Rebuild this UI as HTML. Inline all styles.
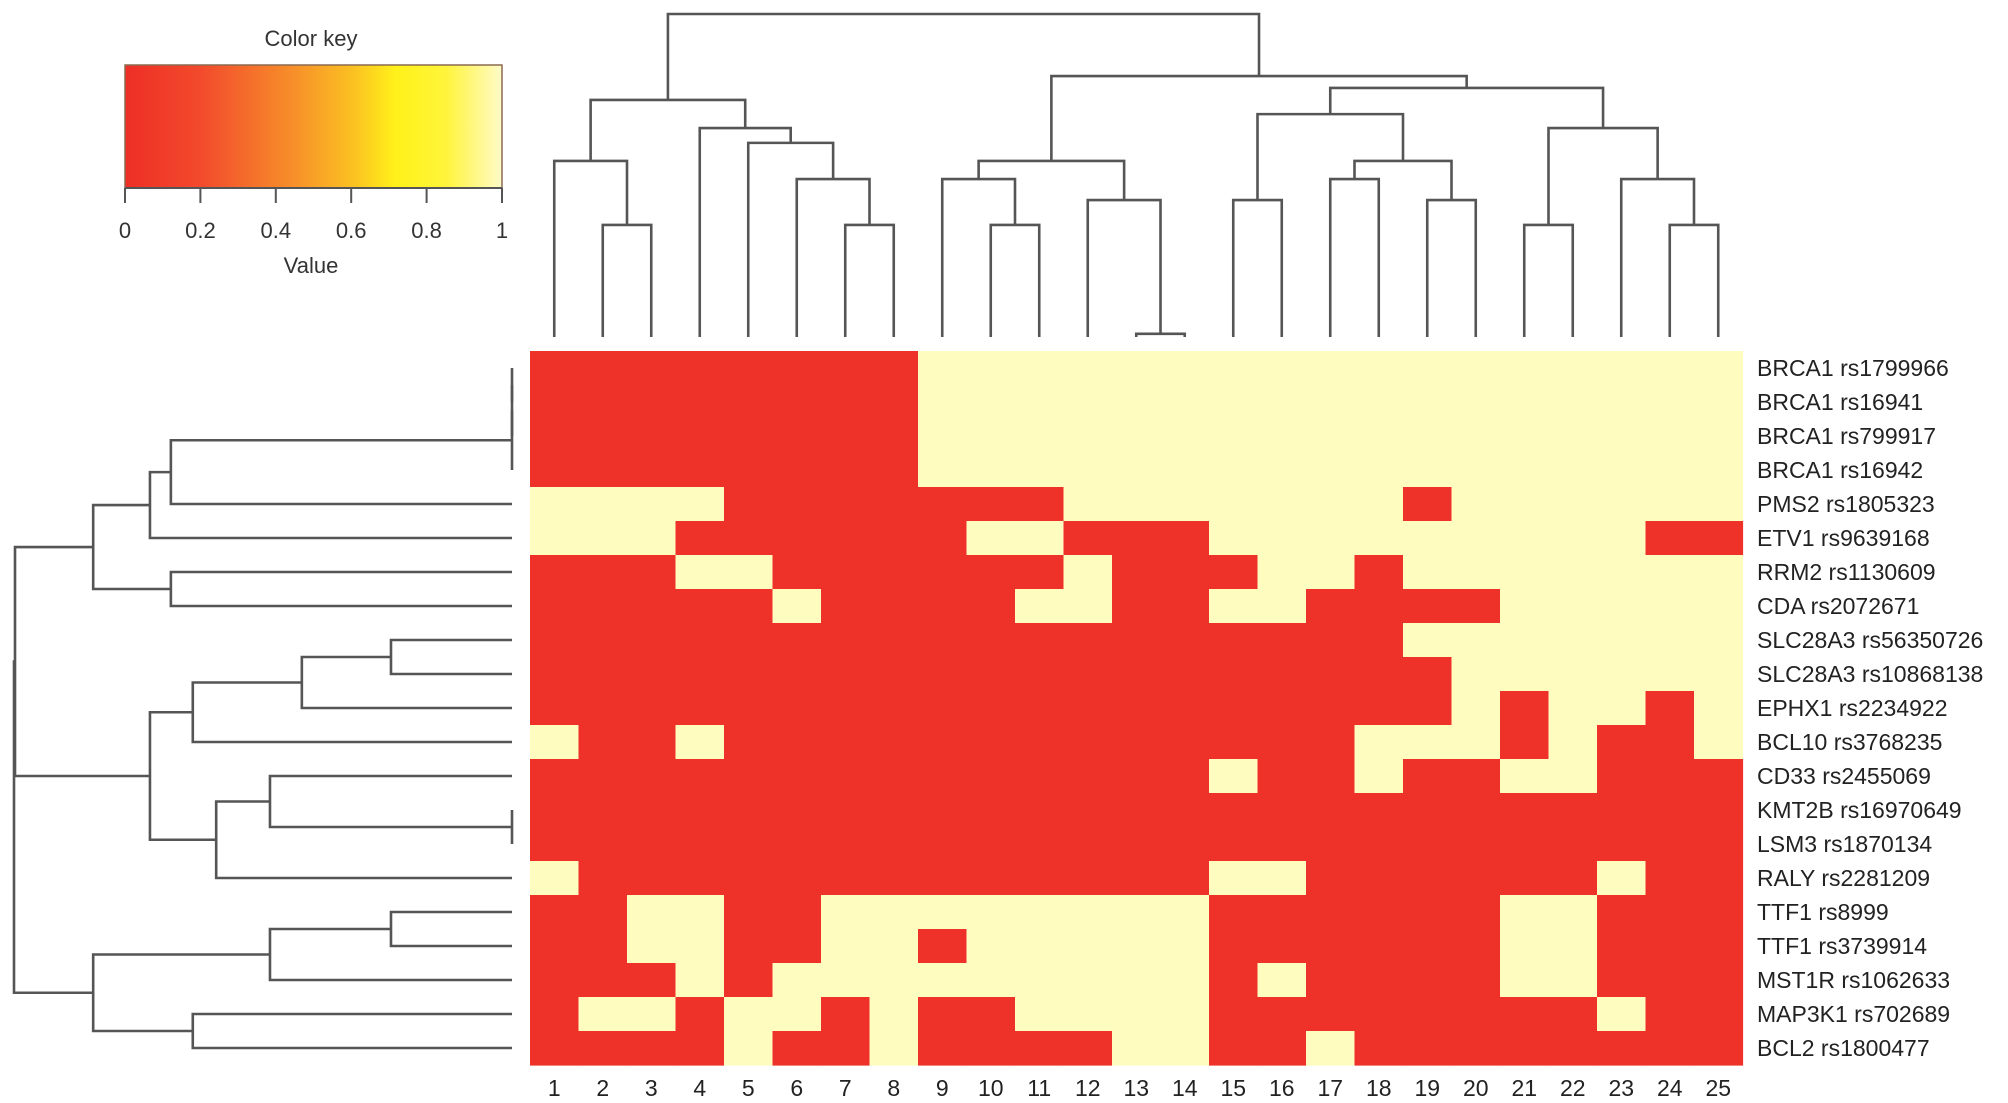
<!DOCTYPE html>
<html><head><meta charset="utf-8">
<style>
html,body{margin:0;padding:0;background:#fff;}
svg{display:block;font-family:"Liberation Sans",Arial,sans-serif;}
</style></head>
<body>
<svg id="chart" width="2008" height="1103" viewBox="0 0 2008 1103" xmlns="http://www.w3.org/2000/svg">
<defs>
<linearGradient id="keygrad" x1="0" x2="1" y1="0" y2="0">
<stop offset="0" stop-color="#ee2f26"/>
<stop offset="0.2" stop-color="#f24a2c"/>
<stop offset="0.45" stop-color="#f7902a"/>
<stop offset="0.6" stop-color="#fbbf22"/>
<stop offset="0.72" stop-color="#fff21a"/>
<stop offset="0.85" stop-color="#fff43a"/>
<stop offset="1" stop-color="#fffbc8"/>
</linearGradient>
</defs>
<g id="colorkey">
<text x="311" y="46" font-size="22" fill="#333" text-anchor="middle">Color key</text>
<rect x="125" y="65" width="377" height="123" fill="url(#keygrad)" stroke="#8a6a50" stroke-width="1.5"/>
<line x1="125" y1="188" x2="502" y2="188" stroke="#555" stroke-width="2"/>
<g id="keyticks"></g>
<text x="311" y="273" font-size="22" fill="#333" text-anchor="middle">Value</text>
</g>
<g id="coldendro"></g>
<g id="rowdendro"></g>
<g id="cells"></g>
<g id="rowlabels"></g>
<g id="collabels"></g>
</svg>
<script>
const rowNames = ["BRCA1 rs1799966","BRCA1 rs16941","BRCA1 rs799917","BRCA1 rs16942","PMS2 rs1805323","ETV1 rs9639168","RRM2 rs1130609","CDA rs2072671","SLC28A3 rs56350726","SLC28A3 rs10868138","EPHX1 rs2234922","BCL10 rs3768235","CD33 rs2455069","KMT2B rs16970649","LSM3 rs1870134","RALY rs2281209","TTF1 rs8999","TTF1 rs3739914","MST1R rs1062633","MAP3K1 rs702689","BCL2 rs1800477"];
const colNames = ["1","2","3","4","5","6","7","8","9","10","11","12","13","14","15","16","17","18","19","20","21","22","23","24","25"];
// 0 = red (value 0), 1 = pale yellow (value 1); one string per row
const cellValues = [
"0000000011111111111111111",
"0000000011111111111111111",
"0000000011111111111111111",
"0000000011111111111111111",
"1111000000011111110111111",
"1110000001100011111111100",
"0001100000010001101111111",
"0000010000110011000011111",
"0000000000000000001111111",
"0000000000000000000111111",
"0000000000000000000101101",
"1001000000000000011101001",
"0000000000000010010011000",
"0000000000000000000000000",
"0000000000000000000000000",
"1000000000000011000000100",
"0011001111111100000011000",
"0011001101111100000011000",
"0001011111111101000011000",
"0110110100111100000000100",
"0000100100001100100000000"
];
// hclust-style merges: negative = leaf index (1-based), positive = earlier merge
const colMergeA = [-2,-1,-7,-6,-5,-4,2,-10,-9,-13,-12,9,-15,-17,-19,14,13,-21,-24,-23,18,17,12,7];
const colMergeB = [-3,1,-8,3,4,5,6,-11,8,-14,10,11,-16,-18,-20,15,16,-22,-25,19,20,21,22,23];
const colHeights = [0.347,0.545,0.347,0.489,0.601,0.647,0.734,0.347,0.489,0.01,0.424,0.545,0.424,0.489,0.424,0.545,0.69,0.347,0.347,0.489,0.647,0.771,0.808,1.0];
const rowMergeA = [-1,1,2,3,4,-7,5,-9,8,9,-14,-13,12,10,-17,15,-20,16,7,19];
const rowMergeB = [-2,-3,-4,-5,-6,-8,6,-10,-11,-12,-15,11,-16,13,-18,-19,-21,17,14,18];
const rowHeights = [0,0,0,0.685,0.727,0.685,0.841,0.243,0.422,0.641,0,0.486,0.594,0.727,0.243,0.486,0.641,0.841,0.998,1.0];
const keyTicks = [0,0.2,0.4,0.6,0.8,1];

const NS="http://www.w3.org/2000/svg";
function mk(tag,attrs,parent){const e=document.createElementNS(NS,tag);for(const k in attrs)e.setAttribute(k,attrs[k]);parent.appendChild(e);return e;}

const gx0=530, cw=48.5, gy0=351, ch=34;
const xCol = i => gx0 + cw*i;
const yRow = i => gy0 + ch*i;
const xColC = p => gx0 + cw*(p-0.5);
const yRowC = p => gy0 + ch*(p-0.5);
const colDY = d => 337 - d*323;
const rowDX = d => 512 - d*498;
const keyX = v => 125 + v*377;

const RED="#ee3129", YEL="#fffcc0";
const cells=document.getElementById('cells');
for(let r=0;r<rowNames.length;r++){
  for(let c=0;c<colNames.length;c++){
    const v=+cellValues[r][c];
    const el=mk('rect',{x:xCol(c),y:yRow(r),width:cw+0.6,height:ch+0.6,fill:v?YEL:RED},cells);
    
    
  }
}
const rl=document.getElementById('rowlabels');
rowNames.forEach((n,i)=>{
  const t=mk('text',{x:1757,y:yRowC(i+1)+8,'font-size':23,fill:'#222'},rl);
  t.textContent=n;
  
  
});
const cl=document.getElementById('collabels');
colNames.forEach((n,i)=>{
  const t=mk('text',{x:xColC(i+1),y:1096,'font-size':23,fill:'#222','text-anchor':'middle'},cl);
  t.textContent=n;
  
  
});
const kt=document.getElementById('keyticks');
keyTicks.forEach(v=>{
  const l=mk('line',{x1:keyX(v),y1:188,x2:keyX(v),y2:203,stroke:'#555','stroke-width':2},kt);
  
  
  const t=mk('text',{x:keyX(v),y:238,'font-size':22,fill:'#333','text-anchor':'middle'},kt);
  t.textContent=String(v);
  
  
});

function drawDendro(A,B,H,g,vertical){
  const pos=[],ht=[];
  const getP=k=>k<0?-k:pos[k-1];
  const getH=k=>k<0?0:ht[k-1];
  const st={stroke:'#555','stroke-width':2.6,fill:'none'};
  for(let i=0;i<A.length;i++){
    const pa=getP(A[i]),pb=getP(B[i]),ha=getH(A[i]),hb=getH(B[i]),h=H[i];
    pos.push((pa+pb)/2);ht.push(h);
    let d;
    if(vertical){
      const xa=xColC(pa),xb=xColC(pb),y=colDY(h);
      d=`M${xa},${colDY(ha)}V${y}H${xb}V${colDY(hb)}`;
    }else{
      const ya=yRowC(pa),yb=yRowC(pb),x=rowDX(h);
      d=`M${rowDX(ha)},${ya}H${x}V${yb}H${rowDX(hb)}`;
    }
    const p=mk('path',Object.assign({d:d},st),g);
    
    
  }
}
drawDendro(colMergeA,colMergeB,colHeights,document.getElementById('coldendro'),true);
drawDendro(rowMergeA,rowMergeB,rowHeights,document.getElementById('rowdendro'),false);
</script>
</body></html>
